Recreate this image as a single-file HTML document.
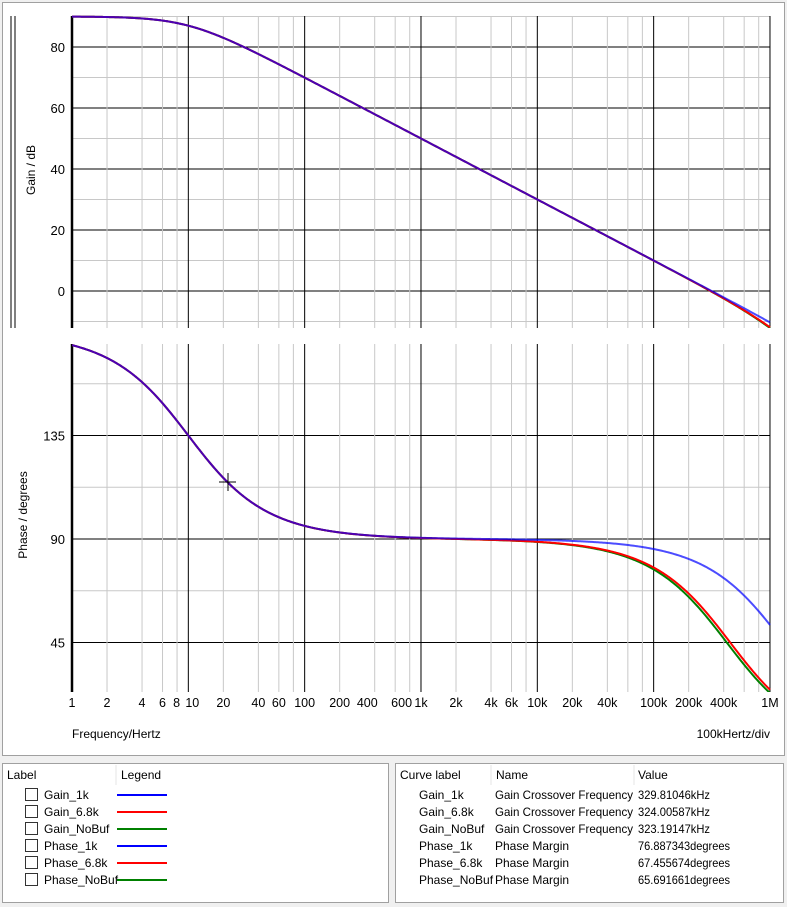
<!DOCTYPE html>
<html><head><style>
body{margin:0;background:#f0f0f0;width:787px;height:907px;overflow:hidden;font-family:"Liberation Sans",sans-serif;}
svg{position:absolute;left:0;top:0}
</style></head><body>
<svg id="s" width="787" height="907" xmlns="http://www.w3.org/2000/svg" font-family="Liberation Sans, sans-serif"></svg>
<script>
const s=document.getElementById('s');let h='';
h+='<defs><clipPath id="cg"><rect x="72" y="10" width="699" height="318"/></clipPath><clipPath id="cp"><rect x="72" y="340" width="699" height="352"/></clipPath></defs>';
h+='<rect x="2.5" y="2.5" width="782" height="753" fill="#fff" stroke="#a0a0a0"/>';
const X0=72,D=116.33;const fx=f=>X0+Math.log10(f)*D;
function vgrid(y1,y2){for(let d=0;d<6;d++)for(let m of [2,4,6,8]){const x=fx(m*Math.pow(10,d));h+=`<line x1="${x}" y1="${y1}" x2="${x}" y2="${y2}" stroke="#c8c8c8"/>`;}
 for(let d=1;d<=6;d++){const x=fx(Math.pow(10,d));h+=`<line x1="${x}" y1="${y1}" x2="${x}" y2="${y2}" stroke="#000"/>`;}
 h+=`<line x1="72" y1="${y1}" x2="72" y2="${y2}" stroke="#000" stroke-width="2.5"/>`;}
const gy=g=>291-g*3.05, py=p=>539-(p-90)*2.3;
for(let g=-10;g<=90;g+=10){const y=gy(g);h+=`<line x1="72" y1="${y}" x2="770" y2="${y}" stroke="${g%20==0?'#000':'#c8c8c8'}"/>`;}
for(let p=22.5;p<=175;p+=22.5){const y=py(p);if(y<344||y>692)continue;h+=`<line x1="72" y1="${y}" x2="770" y2="${y}" stroke="${p%45==0?'#000':'#c8c8c8'}"/>`;}
vgrid(16,328);vgrid(344,692);
h+='<line x1="11" y1="16" x2="11" y2="328" stroke="#000"/><line x1="15" y1="16" x2="15" y2="328" stroke="#000"/>';
[80,60,40,20,0].forEach(g=>{h+=`<text x="65" y="${gy(g)+5}" font-size="13" text-anchor="end" fill="#000">${g}</text>`});
[135,90,45].forEach(p=>{h+=`<text x="65" y="${py(p)+5}" font-size="13" text-anchor="end">${p}</text>`});
h+='<text transform="translate(35,170) rotate(-90)" font-size="12" text-anchor="middle">Gain / dB</text>';
h+='<text transform="translate(27,515) rotate(-90)" font-size="12" text-anchor="middle">Phase / degrees</text>';
const tl=[[1,'1'],[2,'2'],[4,'4'],[6,'6'],[8,'8'],[10,'10'],[20,'20'],[40,'40'],[60,'60'],[100,'100'],[200,'200'],[400,'400'],[600,'600'],[1e3,'1k'],[2e3,'2k'],[4e3,'4k'],[6e3,'6k'],[1e4,'10k'],[2e4,'20k'],[4e4,'40k'],[1e5,'100k'],[2e5,'200k'],[4e5,'400k'],[1e6,'1M']];
tl.forEach(([f,t])=>{let x=fx(f);let a='middle';if(f==8){a='end';x+=3}if(f==10){a='start';x-=3}if(f==400){a='end';x+=3}if(f==600){a='start';x-=4}
h+=`<text x="${x}" y="707" font-size="12.5" text-anchor="${a}">${t}</text>`});
h+='<text x="72" y="738" font-size="12">Frequency/Hertz</text><text x="770" y="738" font-size="12" text-anchor="end">100kHertz/div</text>';
const pp=[[1.25e6,425e3,'#008000'],[1.35e6,455e3,'#ff0000'],[3.7e6,1.31e6,'#0000ff']];
pp.forEach(([PG,P,c],i)=>{let a='',b='';for(let k=0;k<=600;k++){const f=Math.pow(10,k/100);const x=fx(f);
 const g=90-10*Math.log10(1+(f/10)**2)-10*Math.log10(1+(f/PG)**2);
 const ph=90+Math.atan(10/f)*180/Math.PI-Math.atan(f/P)*180/Math.PI;
 a+=(k?'L':'M')+x.toFixed(2)+','+gy(g).toFixed(2);b+=(k?'L':'M')+x.toFixed(2)+','+py(ph).toFixed(2);}
 const op=i==2?0.7:1;
 h+=`<path clip-path="url(#cg)" d="${a}" fill="none" stroke="${c}" stroke-width="2" stroke-opacity="${op}"/><path clip-path="url(#cp)" d="${b}" fill="none" stroke="${c}" stroke-width="2" stroke-opacity="${op}"/>`;});
h+='<line x1="219" y1="482" x2="236" y2="482" stroke="#000"/><line x1="228" y1="473" x2="228" y2="491" stroke="#000"/>';
h+='<rect x="2.5" y="763.5" width="386" height="139" fill="#fff" stroke="#a0a0a0"/>';
h+='<rect x="395.5" y="763.5" width="388" height="139" fill="#fff" stroke="#a0a0a0"/>';
h+='<line x1="116" y1="765" x2="116" y2="785" stroke="#e5e5e5"/><line x1="491" y1="765" x2="491" y2="785" stroke="#e5e5e5"/><line x1="634" y1="765" x2="634" y2="785" stroke="#e5e5e5"/>';
h+='<text x="7" y="779" font-size="12">Label</text><text x="121" y="779" font-size="12">Legend</text>';
h+='<text x="400" y="779" font-size="12">Curve label</text><text x="496" y="779" font-size="12">Name</text><text x="638" y="779" font-size="12">Value</text>';
const L=['Gain_1k','Gain_6.8k','Gain_NoBuf','Phase_1k','Phase_6.8k','Phase_NoBuf'],C=['#0000ff','#ff0000','#008000'];
const V=['329.81046kHz','324.00587kHz','323.19147kHz','76.887343degrees','67.455674degrees','65.691661degrees'];
L.forEach((t,i)=>{const y=796+i*17;
 h+=`<rect x="25.5" y="${y-7.5}" width="12" height="12" fill="#fff" stroke="#333"/><text x="44" y="${y+3}" font-size="12">${t}</text><line x1="117" y1="${y-1}" x2="167" y2="${y-1}" stroke="${C[i%3]}" stroke-width="2"/>`;
 h+=`<text x="419" y="${y+3}" font-size="12">${t}</text>`+(i<3?`<text x="495" y="${y+3}" font-size="12" textLength="138" lengthAdjust="spacingAndGlyphs">Gain Crossover Frequency</text>`:`<text x="495" y="${y+3}" font-size="12">Phase Margin</text>`)+`<text x="638" y="${y+3}" font-size="12" textLength="${i<3?72:92}" lengthAdjust="spacingAndGlyphs">${V[i]}</text>`;});
s.innerHTML=h;
</script>
</body></html>
